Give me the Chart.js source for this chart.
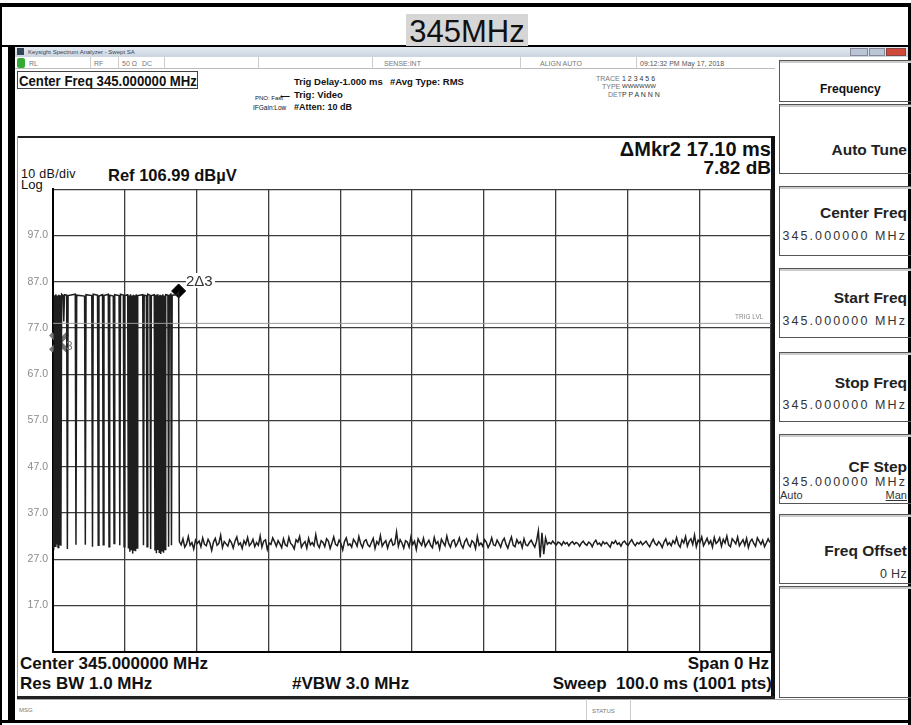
<!DOCTYPE html>
<html>
<head>
<meta charset="utf-8">
<script src="https://cdn.jsdelivr.net/npm/chart.js@4.4.1/dist/chart.umd.min.js"></script>
<style>
  body { margin:0; width:911px; height:725px; position:relative; background:#fff; overflow:hidden;
         font-family:"Liberation Sans", Arial, sans-serif; color:#111; }
  .t { position:absolute; white-space:nowrap; line-height:1; }
  .b { font-weight:bold; }
  .r { text-align:right; }
  .box { position:absolute; box-sizing:border-box; }
  .tiny { font-size:7px; color:#777; }
  .sk { position:absolute; left:779px; width:132px; box-sizing:border-box; border:1px solid #555;
        border-right:none; box-shadow: inset 0 2px 0 #ccc; }
  .skl { position:absolute; right:4px; font-weight:bold; font-size:15.5px; color:#222; line-height:1; white-space:nowrap; }
  .skv { position:absolute; right:4px; font-size:12.5px; letter-spacing:2.1px; color:#333; line-height:1; white-space:nowrap; }
  #plot { position:absolute; left:17px; top:178px; }
</style>
</head>
<body>
<!-- outer frame -->
<div class="box" style="left:0;top:3px;width:911px;height:4px;background:#000"></div>
<div class="box" style="left:0;top:3px;width:2px;height:722px;background:#000"></div>
<div class="box" style="left:908px;top:3px;width:3px;height:722px;background:#000"></div>
<div class="box" style="left:0;top:45px;width:911px;height:2px;background:#000"></div>
<div class="box" style="left:8px;top:47px;width:7px;height:675px;background:#000"></div>
<div class="box" style="left:0;top:720px;width:911px;height:3px;background:#000"></div>

<div class="box" style="left:406px;top:14px;width:122px;height:32px;background:#d6d6d6"></div>
<div class="t" style="left:406px;top:16px;width:122px;text-align:center;font-size:31px;">345MHz</div>

<!-- window title + status row -->
<div class="box" style="left:15px;top:47px;width:893px;height:10px;background:linear-gradient(#e3e9f0,#cbd5e0)"></div>
<div class="box" style="left:17px;top:48px;width:7px;height:7px;background:#345"></div>
<div class="t" style="left:28px;top:49px;font-size:6px;color:#345;">Keysight Spectrum Analyzer - Swept SA</div>
<div class="box" style="left:850px;top:48px;width:18px;height:8px;background:#b9c6d6;border:1px solid #889"></div>
<div class="box" style="left:869px;top:48px;width:16px;height:8px;background:#b9c6d6;border:1px solid #889"></div>
<div class="box" style="left:886px;top:48px;width:20px;height:8px;background:#d04a3a;border:1px solid #844"></div>

<div class="box" style="left:15px;top:57px;width:760px;height:12px;border-bottom:1px solid #bbb"></div>
<div class="box" style="left:17px;top:58px;width:8px;height:10px;background:#3a3;border-radius:2px"></div>
<div class="t tiny" style="left:29px;top:60px;">RL</div>
<div class="t tiny" style="left:94px;top:60px;">RF</div>
<div class="t tiny" style="left:122px;top:60px;">50 Ω</div>
<div class="t tiny" style="left:142px;top:60px;">DC</div>
<div class="t tiny" style="left:384px;top:60px;">SENSE:INT</div>
<div class="t tiny" style="left:540px;top:60px;">ALIGN AUTO</div>
<div class="t tiny" style="left:640px;top:60px;color:#555">09:12:32 PM May 17, 2018</div>
<div class="box" style="left:90px;top:57px;width:1px;height:12px;background:#ccc"></div>
<div class="box" style="left:118px;top:57px;width:1px;height:12px;background:#ccc"></div>
<div class="box" style="left:164px;top:57px;width:1px;height:12px;background:#ccc"></div>
<div class="box" style="left:258px;top:57px;width:1px;height:12px;background:#ccc"></div>
<div class="box" style="left:372px;top:57px;width:1px;height:12px;background:#ccc"></div>
<div class="box" style="left:520px;top:57px;width:1px;height:12px;background:#ccc"></div>
<div class="box" style="left:636px;top:57px;width:1px;height:12px;background:#ccc"></div>

<div class="box" style="left:17px;top:71px;width:181px;height:18px;border:1px solid #444"></div>
<div class="t b" style="left:19px;top:73px;font-size:15.5px;transform:scaleX(0.85);transform-origin:0 0;">Center Freq 345.000000 MHz</div>
<div class="t b" style="left:294px;top:77px;font-size:9.5px;">Trig Delay-1.000 ms</div>
<div class="t b" style="left:294px;top:90px;font-size:9.5px;">Trig: Video</div>
<div class="t b" style="left:294px;top:103px;font-size:9px;">#Atten: 10 dB</div>
<div class="t b" style="left:390px;top:77px;font-size:9.5px;">#Avg Type: RMS</div>
<div class="t" style="left:255px;top:95px;font-size:6px;">PNO: Fast</div>
<div class="t" style="left:280px;top:93px;font-size:7px;">⟵</div>
<div class="t" style="left:253px;top:105px;font-size:6.5px;">IFGain:Low</div>
<div class="t tiny" style="left:596px;top:75px;">TRACE</div>
<div class="t" style="left:622px;top:75px;font-size:7px;color:#333">1 2 3 4 5 6</div>
<div class="t tiny" style="left:602px;top:83px;">TYPE</div>
<div class="t" style="left:622px;top:83px;font-size:6px;color:#333">WWWWWW</div>
<div class="t tiny" style="left:608px;top:91px;">DET</div>
<div class="t" style="left:622px;top:91px;font-size:7px;color:#333">P P A N N N</div>

<!-- softkeys -->
<div class="sk" style="top:60px;height:42px;"><div class="t b" style="left:40px;top:22px;font-size:12px;">Frequency</div></div>
<div class="sk" style="top:104px;height:70px;"><div class="skl" style="top:37px;">Auto Tune</div></div>
<div class="sk" style="top:186px;height:70px;"><div class="skl" style="top:18px;">Center Freq</div><div class="skv" style="top:43px;">345.000000 MHz</div></div>
<div class="sk" style="top:268px;height:70px;"><div class="skl" style="top:21px;">Start Freq</div><div class="skv" style="top:46px;">345.000000 MHz</div></div>
<div class="sk" style="top:352px;height:70px;"><div class="skl" style="top:22px;">Stop Freq</div><div class="skv" style="top:46px;">345.000000 MHz</div></div>
<div class="sk" style="top:434px;height:70px;"><div class="skl" style="top:24px;">CF Step</div><div class="skv" style="top:41px;">345.000000 MHz</div>
  <div class="t" style="left:0px;top:55px;font-size:11px;color:#333">Auto</div>
  <div class="skv" style="top:55px;font-size:11px;letter-spacing:0;text-decoration:underline;">Man</div></div>
<div class="sk" style="top:514px;height:70px;"><div class="skl" style="top:28px;">Freq Offset</div><div class="skv" style="top:53px;letter-spacing:0.3px;">0 Hz</div></div>
<div class="sk" style="top:586px;height:112px;"></div>

<!-- graph panel -->
<div class="box" style="left:17px;top:136px;width:758px;height:2px;background:#222"></div>
<div class="box" style="left:17px;top:136px;width:1px;height:562px;background:#999"></div>
<div class="box" style="left:771px;top:136px;width:4px;height:563px;background:#111"></div>
<div class="box" style="left:17px;top:696px;width:758px;height:3px;background:#222"></div>
<div class="t b r" style="right:140px;top:139px;font-size:20px;">ΔMkr2 17.10 ms</div>
<div class="t b r" style="right:140px;top:158px;font-size:19px;">7.82 dB</div>
<div class="t" style="left:21px;top:168px;font-size:12.5px;letter-spacing:0.3px">10 dB/div</div>
<div class="t" style="left:21px;top:178px;font-size:13px;">Log</div>
<div class="t b" style="left:108px;top:167px;font-size:16.5px;">Ref 106.99 dBµV</div>
<div class="t b" style="left:20px;top:655px;font-size:17px;">Center 345.000000 MHz</div>
<div class="t b" style="left:20px;top:675px;font-size:17px;">Res BW 1.0 MHz</div>
<div class="t b" style="left:292px;top:675px;font-size:17px;">#VBW 3.0 MHz</div>
<div class="t b r" style="right:142px;top:655px;font-size:17px;">Span 0 Hz</div>
<div class="t b r" style="right:139px;top:675px;font-size:17px;">Sweep &nbsp;100.0 ms (1001 pts)</div>

<div class="box" style="left:17px;top:699px;width:891px;height:21px;border-top:1px solid #aaa"></div>
<div class="t" style="left:19px;top:707px;font-size:6px;color:#777">MSG</div>
<div class="box" style="left:586px;top:699px;width:1px;height:21px;background:#ccc"></div>
<div class="box" style="left:630px;top:699px;width:1px;height:21px;background:#ccc"></div>
<div class="t" style="left:592px;top:708px;font-size:6px;color:#777">STATUS</div>

<canvas id="plot" width="758" height="485"></canvas>

<div class="t" style="left:735px;top:314px;font-size:6.5px;color:#888">TRIG LVL</div>
<div class="t" style="left:186px;top:273px;font-size:15px;color:#333;background:#fff;padding-right:2px">2Δ3</div>
<div class="t" style="left:66px;top:340px;font-size:12px;color:#777">3</div>

<script>
// sweep: 0..100 ms, 1001 pts, Ref 106.99 dBuV, 10 dB/div
const xTickValues = [0, 10, 20, 30, 40, 50, 60, 70, 80, 90, 100];
const yTickValues = [6.99, 16.99, 26.99, 36.99, 46.99, 56.99, 66.99, 76.99, 86.99, 96.99, 106.99];
const yTickLabels = ['', '17.0', '27.0', '37.0', '47.0', '57.0', '67.0', '77.0', '87.0', '97.0', ''];

// burst (ms / dBuV)
const burstMs = [0.0, 0.1, 0.2, 0.3, 0.4, 0.5, 0.6, 0.7, 0.8, 0.9, 1.0, 1.1, 1.2, 1.4, 1.5, 1.6,
  1.9, 2.0, 2.1, 3.1, 3.2, 3.3, 4.4, 4.5, 4.6, 5.4, 5.5, 5.6, 6.2, 6.3, 6.4, 6.9, 7.0, 7.1,
  7.7, 7.8, 7.9, 8.4, 8.5, 8.6, 9.2, 9.3, 9.4, 9.8, 9.9, 10.0,
  10.4, 10.5, 10.6, 10.7, 10.8, 10.9, 11.0, 11.1, 11.2, 11.3, 11.4, 11.5, 11.6, 11.7, 11.8,
  12.5, 12.6, 12.7, 13.0, 13.1, 13.2, 13.5, 13.6, 13.7,
  14.1, 14.2, 14.3, 14.4, 14.5, 14.6, 14.7, 14.8, 14.9, 15.0, 15.1, 15.2, 15.3, 15.4, 15.5, 15.6, 15.7,
  16.0, 16.1, 16.2, 16.4, 16.5, 16.6, 17.2, 17.5];
const burstDb = [30.1, 29.7, 84.1, 29.8, 84.3, 30.2, 84.0, 29.5, 84.2, 30.0, 84.1, 29.9, 84.3, 84.0, 78.4, 84.2,
  84.1, 29.2, 84.0, 84.3, 30.1, 84.1, 83.9, 30.1, 84.2, 84.0, 29.7, 84.3, 84.1, 30.0, 83.9, 84.2, 30.1, 84.0,
  84.3, 29.7, 84.1, 83.9, 30.4, 84.2, 84.0, 30.0, 84.3, 84.1, 29.7, 84.0,
  84.2, 29.3, 84.1, 28.6, 84.3, 29.1, 84.0, 28.2, 84.2, 29.0, 84.1, 28.7, 84.3, 29.4, 84.0,
  84.2, 30.0, 84.1, 84.0, 29.7, 84.3, 84.1, 29.2, 84.0,
  84.2, 28.9, 84.1, 28.3, 84.3, 29.0, 84.0, 28.5, 84.2, 28.1, 84.1, 28.8, 84.3, 28.4, 84.0, 29.1, 84.2,
  84.1, 29.7, 84.0, 84.3, 30.0, 84.1, 84.2, 84.8];

// noise floor after the burst, 0.25 ms apart from 17.6 ms
const noiseStartMs = 17.6;
const noiseStepMs = 0.25;
const noiseDb = [
  30.8, 30.1, 31.4, 29.6, 30.3, 31.9, 30.0, 30.6, 29.2, 31.1, 30.4, 30.9, 29.7, 31.6, 30.2, 29.9, 31.3, 30.5, 28.9, 30.7,
  31.5, 30.0, 30.4, 32.2, 29.5, 30.8, 30.3, 29.8, 31.2, 30.6, 29.4, 30.9, 31.8, 30.1, 30.5, 29.3, 31.0, 30.2, 31.7, 29.9,
  30.4, 31.3, 29.7, 30.6, 30.0, 32.0, 29.6, 30.9, 31.2, 29.1, 30.5, 30.2, 31.6, 30.8, 29.8, 31.0, 30.3, 29.5, 31.4, 30.1,
  29.8, 31.7, 30.4, 30.0, 29.2, 31.2, 30.7, 31.9, 29.6, 30.3, 30.8, 29.4, 31.5, 30.1, 30.6, 29.9, 32.3, 30.2, 29.5, 31.0,
  30.6, 29.7, 31.4, 30.9, 29.3, 30.5, 31.8, 30.2, 29.9, 31.1, 30.4, 29.0, 30.8, 31.6, 30.0, 30.3, 29.6, 31.3, 30.7, 29.8,
  31.9, 30.4, 29.5, 30.9, 31.2, 30.1, 29.7, 30.6, 31.5, 29.3, 30.8, 30.2, 32.1, 29.8, 30.5, 31.0, 29.4, 30.7, 31.3, 30.0,
  30.3, 32.9, 29.8, 31.2, 30.5, 29.4, 31.0, 30.7, 29.6, 31.8, 30.2, 30.9, 29.1, 31.4, 30.6, 30.0, 31.5, 29.7, 30.4, 31.1,
  30.0, 29.5, 31.7, 30.3, 30.8, 29.2, 31.3, 30.6, 29.9, 32.0, 30.4, 29.6, 30.9, 31.2, 29.8, 30.5, 31.6, 30.1, 29.4, 30.8,
  31.4, 30.2, 29.7, 31.0, 30.6, 29.3, 31.9, 30.0, 30.5, 29.8, 31.2, 30.7, 29.5, 30.3, 31.6, 30.1, 29.9, 31.1, 30.4, 29.6,
  30.9, 31.5, 30.2, 29.4, 30.7, 31.8, 30.0, 29.7, 31.2, 30.4, 30.8, 29.5, 31.4, 30.1, 29.9, 30.6, 31.1, 30.3, 29.6, 30.9,
  33.1, 27.4, 32.7, 28.1, 31.6, 30.2, 30.6, 30.3, 30.9, 30.4, 30.1, 30.7, 30.5, 30.0, 30.8, 30.3, 30.6, 29.9, 30.5, 30.8,
  30.2, 30.6, 30.4, 29.8, 30.5, 30.9, 30.3, 30.0, 30.7, 30.4, 29.7, 30.6, 31.1, 30.2, 30.5, 29.9, 30.8, 30.3, 30.6, 30.1,
  29.6, 30.7, 30.4, 31.0, 30.2, 30.5, 29.8, 30.6, 30.9, 30.3, 30.0, 30.7, 31.2, 30.4, 29.9, 30.6, 30.3, 30.8, 30.1, 30.5,
  30.9, 30.2, 29.7, 30.6, 31.3, 30.4, 30.0, 30.8, 30.3, 29.5, 30.7, 31.4, 30.1, 30.6, 29.9, 31.0, 30.4, 31.7, 30.2, 29.6,
  31.2, 30.5, 31.9, 29.8, 30.9, 31.4, 30.2, 32.2, 29.7, 31.1, 30.6, 31.8, 29.9, 30.7, 31.5, 30.3, 31.0, 29.6, 31.7, 30.4,
  30.8, 31.6, 29.8, 31.3, 30.5, 32.0, 30.1, 29.7, 31.4, 30.9, 30.3, 31.8, 29.9, 30.6, 31.2, 30.0, 31.5, 29.5, 30.8, 31.3,
  30.4, 29.8, 31.6, 30.9, 30.2, 31.1, 29.7, 30.5, 31.4, 30.6];

const trigLevelDb = 78.0;
const mkr2 = { ms: 17.5, db: 85.0 };
const mkr3 = { ms: 0.85, db: 73.9 };

const trace = burstMs.map((t, i) => ({ x: t, y: burstDb[i] }))
  .concat(noiseDb.map((v, i) => ({ x: noiseStartMs + i * noiseStepMs, y: v })));

new Chart(document.getElementById('plot').getContext('2d'), {
  type: 'line',
  data: {
    datasets: [
      {
        data: [{ x: 0, y: trigLevelDb }, { x: 100, y: trigLevelDb }],
        borderColor: '#9a9a9a', borderWidth: 1, pointRadius: 0
      },
      {
        data: trace,
        borderColor: '#1e1e1e', borderWidth: 1.5, pointRadius: 0, tension: 0
      },
      {
        data: [{ x: mkr2.ms, y: mkr2.db }],
        pointStyle: 'rectRot', pointRadius: 7, backgroundColor: '#000', borderColor: '#000', showLine: false, clip: false
      },
      {
        data: [{ x: mkr3.ms, y: mkr3.db }],
        pointStyle: 'crossRot', pointRadius: 12, borderColor: '#777', borderWidth: 4.5, showLine: false, clip: false
      },
      {
        data: [{ x: mkr3.ms, y: mkr3.db }],
        pointStyle: 'crossRot', pointRadius: 11, borderColor: '#f4f4f4', borderWidth: 2.2, showLine: false, clip: false
      }
    ]
  },
  options: {
    responsive: false,
    animation: false,
    layout: { autoPadding: false, padding: { top: 8, right: 4, left: 0, bottom: 0 } },
    plugins: { legend: { display: false }, tooltip: { enabled: false } },
    scales: {
      x: {
        type: 'linear', min: 0, max: 100,
        afterBuildTicks: s => { s.ticks = xTickValues.map(v => ({ value: v })); },
        afterFit: s => { s.height = 5; },
        ticks: { display: false },
        grid: { color: '#3c3c3c', lineWidth: 1.3, drawTicks: false },
        border: { display: true, color: '#000', width: 2 }
      },
      y: {
        min: 6.99, max: 106.99,
        afterBuildTicks: s => { s.ticks = yTickValues.map(v => ({ value: v })); },
        afterFit: s => { s.width = 36; },
        ticks: {
          padding: 5, color: '#8a8a8a', font: { size: 10.5, family: 'Liberation Sans' },
          callback: (v, i) => yTickLabels[i]
        },
        grid: { color: '#3c3c3c', lineWidth: 1.3, drawTicks: false },
        border: { display: true, color: '#000', width: 2 }
      }
    }
  }
});
</script>
</body>
</html>
